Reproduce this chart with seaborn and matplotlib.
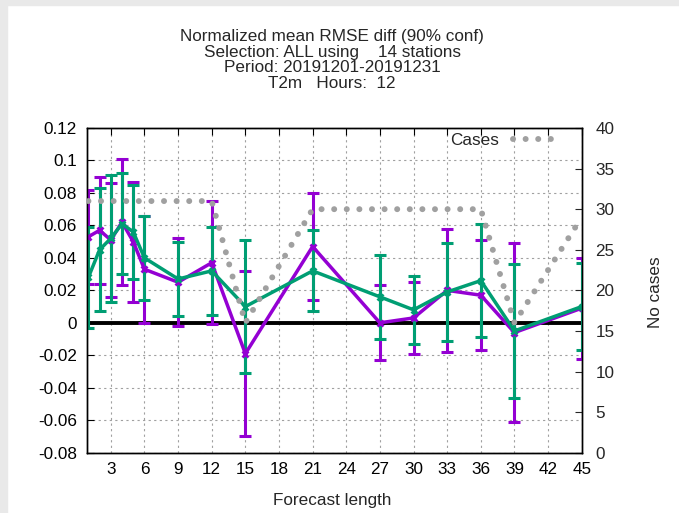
import matplotlib
matplotlib.use("Agg")
import matplotlib.pyplot as plt
import seaborn as sns
import pandas as pd
from matplotlib.patches import Rectangle

# ---- data ----
hours = [1, 2, 3, 4, 5, 6, 9, 12, 15, 21, 27, 30, 33, 36, 39, 45]
purple_mean = [0.053, 0.057, 0.051, 0.062, 0.050, 0.033, 0.025, 0.037, -0.019,
               0.047, 0.000, 0.003, 0.020, 0.017, -0.006, 0.009]
purple_err = [0.029, 0.033, 0.035, 0.039, 0.037, 0.033, 0.027, 0.038, 0.051,
              0.033, 0.023, 0.022, 0.038, 0.034, 0.055, 0.031]
green_mean = [0.028, 0.045, 0.052, 0.061, 0.056, 0.040, 0.027, 0.032, 0.010,
              0.032, 0.016, 0.008, 0.019, 0.026, -0.005, 0.010]
green_err = [0.031, 0.038, 0.039, 0.031, 0.029, 0.026, 0.023, 0.027, 0.041,
             0.025, 0.026, 0.021, 0.030, 0.035, 0.041, 0.027]
cases = [31, 31, 31, 31, 31, 31, 31, 31, 16, 30, 30, 30, 30, 30, 16, 29]

xticks = [3, 6, 9, 12, 15, 18, 21, 24, 27, 30, 33, 36, 39, 42, 45]
yticks = [-0.08, -0.06, -0.04, -0.02, 0, 0.02, 0.04, 0.06, 0.08, 0.1, 0.12]
ytick_labels = ["-0.08", "-0.06", "-0.04", "-0.02", "0", "0.02", "0.04",
                "0.06", "0.08", "0.1", "0.12"]
y2ticks = [0, 5, 10, 15, 20, 25, 30, 35, 40]

title_lines = ["Normalized mean RMSE diff (90% conf)",
               "Selection: ALL using    14 stations",
               "Period: 20191201-20191231",
               "T2m   Hours:  12"]

df = pd.DataFrame({"hour": hours, "purple": purple_mean, "purple_err": purple_err,
                   "green": green_mean, "green_err": green_err, "cases": cases})

PURPLE = "#9400d3"
GREEN = "#009e73"
GRAY = "#a0a0a0"
FS = 12.3

sns.set_style("white")
plt.rcParams["font.family"] = ["Liberation Sans", "DejaVu Sans"]
plt.rcParams["font.size"] = FS

fig = plt.figure(figsize=(6.79, 5.13), dpi=100)
fig.patch.set_facecolor("white")
# light gray screenshot border (left and top)
fig.patches.append(Rectangle((0, 0), 7 / 679, 1, transform=fig.transFigure,
                             color="#e9e9e9", zorder=0))
fig.patches.append(Rectangle((0, 1 - 5 / 513), 1, 5 / 513, transform=fig.transFigure,
                             color="#e9e9e9", zorder=0))

ax = fig.add_axes([86.7 / 679, 1 - 452.7 / 513, (581.7 - 86.7) / 679, (452.7 - 128) / 513])
ax.set_facecolor("none")

# grid
ax.set_xticks(xticks)
ax.set_yticks(yticks)
ax.set_yticklabels(ytick_labels)
ax.grid(True, color=GRAY, linestyle=(0, (2, 3)), linewidth=0.8)
ax.set_axisbelow(True)

ax.axhline(0, color="black", lw=2.8, zorder=2)

# error bars
ax.errorbar(df["hour"], df["purple"], yerr=df["purple_err"], fmt="none",
            ecolor=PURPLE, elinewidth=2.2, capsize=4.5, capthick=2.2, zorder=3)
ax.errorbar(df["hour"], df["green"], yerr=df["green_err"], fmt="none",
            ecolor=GREEN, elinewidth=2.2, capsize=4.5, capthick=2.2, zorder=4)

# mean lines
sns.lineplot(data=df, x="hour", y="purple", ax=ax, color=PURPLE, lw=2.5,
             marker="x", markersize=5, markeredgewidth=2, markeredgecolor=PURPLE,
             errorbar=None, zorder=5)
sns.lineplot(data=df, x="hour", y="green", ax=ax, color=GREEN, lw=2.5,
             marker="x", markersize=5, markeredgewidth=2, markeredgecolor=GREEN,
             errorbar=None, zorder=6)

ax.set_xlim(0.85, 45)
ax.set_ylim(-0.08, 0.12)
ax.set_xlabel("")
ax.set_ylabel("")
ax.tick_params(axis="both", direction="in", length=5, width=0.8, colors="black",
               labelsize=FS, top=True, right=False)
ax.tick_params(axis="y", pad=7)
ax.tick_params(axis="x", pad=7)
for s in ax.spines.values():
    s.set_color("black")
    s.set_linewidth(1.0)

# cases on twin axis
ax2 = ax.twinx()
sns.lineplot(data=df, x="hour", y="cases", ax=ax2, color=GRAY, lw=4.3,
             linestyle=(0, (0.01, 2.1)), dash_capstyle="round",
             errorbar=None, label="Cases", zorder=7)
ax2.set_ylim(0, 40)
ax2.set_yticks(y2ticks)
ax2.set_xlim(0.85, 45)
ax2.set_ylabel("")
ax2.set_xlabel("")
ax2.tick_params(axis="y", direction="in", length=5, width=0.8, labelsize=FS, pad=10)
for s in ax2.spines.values():
    s.set_color("black")
    s.set_linewidth(1.0)
leg = ax2.legend(loc="upper right", bbox_to_anchor=(0.95, 0.985), frameon=False,
                 borderaxespad=0, borderpad=0, markerfirst=False,
                 handlelength=2.6, handletextpad=0.8, fontsize=FS)

# texts
for i, line in enumerate(title_lines):
    fig.text(332 / 679, 1 - (36 + 16 * i) / 513, line, ha="center", va="center",
             fontsize=FS)
fig.text(332 / 679, 1 - 501 / 513, "Forecast length", ha="center", va="center",
         fontsize=FS)
fig.text(655 / 679, 1 - 292 / 513, "No cases", ha="center", va="center",
         rotation=90, fontsize=FS)

fig.savefig("out.png", dpi=100)
